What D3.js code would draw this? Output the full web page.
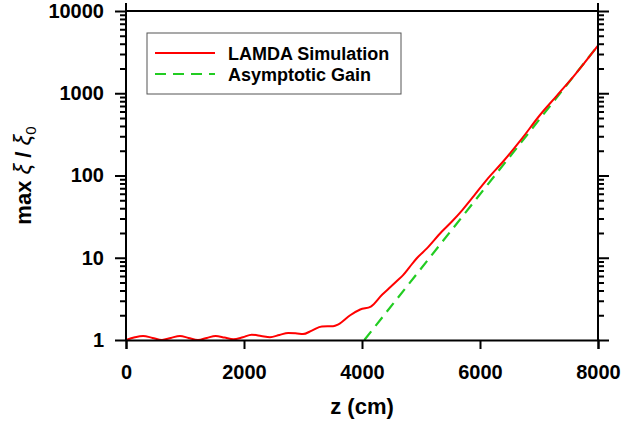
<!DOCTYPE html>
<html>
<head>
<meta charset="utf-8">
<script src="https://cdn.jsdelivr.net/npm/d3@7"></script>
<style>
  body { margin: 0; background: #fff; }
  text { font-family: "Liberation Sans", Arial, sans-serif; }
</style>
</head>
<body>
<script>
// LAMDA simulation: z (cm) vs max xi / xi0
var simZ = [0, 150, 290, 450, 610, 760, 915, 1060, 1220, 1370, 1520, 1670, 1820, 1980, 2130, 2290, 2440, 2600, 2750, 2900, 3000, 3150, 3320, 3510, 3600, 3800, 3970, 4150, 4340, 4450, 4600, 4700, 4800, 4925, 5100, 5350, 5520, 5700, 5900, 6110, 6400, 6700, 7017, 7300, 7600, 8000];
var simGain = [1.0, 1.08, 1.12, 1.06, 1.0, 1.06, 1.12, 1.06, 1.0, 1.06, 1.12, 1.07, 1.02, 1.08, 1.16, 1.12, 1.08, 1.15, 1.22, 1.2, 1.18, 1.3, 1.46, 1.47, 1.55, 2.0, 2.35, 2.55, 3.55, 4.2, 5.3, 6.2, 7.6, 9.8, 13, 20.7, 27.4, 38, 57, 88, 150, 275, 544, 930, 1650, 3800];

// asymptotic gain (straight line on log scale)
var asymZ = [4040, 8000];
var asymGain = [1, 3800];

var xTicks = [0, 2000, 4000, 6000, 8000];
var yTicks = [1, 10, 100, 1000, 10000];
var legendLabels = ["LAMDA Simulation", "Asymptotic Gain"];

var width = 622;
var height = 427;
var svg = d3.select("body").append("svg").attr("width", width + "px").attr("height", height + "px");

var plotLeft = 126, plotRight = 598, plotTop = 11, plotBottom = 340;

var x = d3.scaleLinear().domain([0, 8000]).range([plotLeft, plotRight]);
var y = d3.scaleLog().domain([1, 10000]).range([plotBottom, plotTop]);

var minorTicks = [];
for (var d = 1; d < 10000; d *= 10) {
    for (var k = 2; k <= 9; k++) minorTicks.push(d * k);
}

var line = d3.line()
    .x(function (d) { return x(d[0]); })
    .y(function (d) { return y(d[1]); });

var simData = simZ.map(function (z, i) { return [z, simGain[i]]; });
var asymData = asymZ.map(function (z, i) { return [z, asymGain[i]]; });

svg.append("path")
    .datum(asymData)
    .attr("d", line)
    .attr("fill", "none")
    .attr("stroke", "#22cc22")
    .attr("stroke-width", 2.2)
    .attr("stroke-dasharray", "11,7");

svg.append("path")
    .datum(simData)
    .attr("d", line.curve(d3.curveMonotoneX))
    .attr("fill", "none")
    .attr("stroke", "#ff0000")
    .attr("stroke-width", 2);

// frame lines
svg.append("line").attr("x1", plotLeft).attr("x2", plotRight).attr("y1", plotTop).attr("y2", plotTop)
    .attr("stroke", "#000").attr("stroke-width", 2);
svg.append("line").attr("x1", plotLeft).attr("x2", plotLeft).attr("y1", 3).attr("y2", plotBottom)
    .attr("stroke", "#000").attr("stroke-width", 2);
svg.append("line").attr("x1", plotRight).attr("x2", plotRight).attr("y1", 3).attr("y2", plotBottom)
    .attr("stroke", "#000").attr("stroke-width", 2);

// bottom axis
var xAxis = svg.append("g")
    .attr("transform", "translate(0," + plotBottom + ")")
    .call(d3.axisBottom(x).tickValues(xTicks).tickSize(9).tickPadding(16).tickFormat(d3.format("d")));
xAxis.select(".domain").attr("stroke-width", 2);
xAxis.selectAll(".tick line").attr("stroke-width", 2);
xAxis.selectAll("text").attr("font-size", "20px").attr("font-weight", "bold").attr("fill", "#000")
    .attr("font-family", "Liberation Sans, Arial, sans-serif");

// left axis
var yAxis = svg.append("g")
    .attr("transform", "translate(" + plotLeft + ",0)")
    .call(d3.axisLeft(y).tickValues(yTicks).tickSize(11).tickPadding(11).tickFormat(d3.format("d")));
yAxis.select(".domain").remove();
yAxis.selectAll(".tick line").attr("stroke-width", 2);
yAxis.selectAll("text").attr("font-size", "20px").attr("font-weight", "bold").attr("fill", "#000")
    .attr("font-family", "Liberation Sans, Arial, sans-serif");

var yMinor = svg.append("g")
    .attr("transform", "translate(" + plotLeft + ",0)")
    .call(d3.axisLeft(y).tickValues(minorTicks).tickSize(6).tickFormat(""));
yMinor.select(".domain").remove();
yMinor.selectAll(".tick line").attr("stroke-width", 2);

// right axis, ticks outward
var rAxis = svg.append("g")
    .attr("transform", "translate(" + plotRight + ",0)")
    .call(d3.axisRight(y).tickValues(yTicks).tickSize(11).tickFormat(""));
rAxis.select(".domain").remove();
rAxis.selectAll(".tick line").attr("stroke-width", 2);

var rMinor = svg.append("g")
    .attr("transform", "translate(" + plotRight + ",0)")
    .call(d3.axisRight(y).tickValues(minorTicks).tickSize(6).tickFormat(""));
rMinor.select(".domain").remove();
rMinor.selectAll(".tick line").attr("stroke-width", 2);

// axis titles
svg.append("text")
    .attr("x", (plotLeft + plotRight) / 2)
    .attr("y", 414)
    .attr("text-anchor", "middle")
    .attr("font-size", "22px")
    .attr("font-weight", "bold")
    .text("z (cm)");

var yTitle = svg.append("text")
    .attr("transform", "translate(31," + ((plotTop + plotBottom) / 2) + ") rotate(-90)")
    .attr("text-anchor", "middle")
    .attr("font-size", "22px")
    .attr("font-weight", "bold");
yTitle.append("tspan").text("max ");
yTitle.append("tspan").attr("font-style", "italic").attr("font-weight", "normal").attr("font-size", "24px").text("ξ");
yTitle.append("tspan").text(" / ");
yTitle.append("tspan").attr("font-style", "italic").attr("font-weight", "normal").attr("font-size", "24px").text("ξ");
yTitle.append("tspan").attr("font-size", "15px").attr("font-weight", "normal").attr("dy", 5).text("0");

// legend
var legend = svg.append("g");
legend.append("rect")
    .attr("x", 147).attr("y", 33).attr("width", 254).attr("height", 61)
    .attr("fill", "#fff").attr("stroke", "#555").attr("stroke-width", 1);

var legendColors = ["#ff0000", "#22cc22"];
var legendDash = [null, "11,7"];
legendLabels.forEach(function (label, i) {
    var ly = 53 + i * 21;
    legend.append("line")
        .attr("x1", 155).attr("x2", 215).attr("y1", ly).attr("y2", ly)
        .attr("stroke", legendColors[i]).attr("stroke-width", 2.2)
        .attr("stroke-dasharray", legendDash[i]);
    legend.append("text")
        .attr("x", 228).attr("y", ly + 6.5)
        .attr("font-size", "18px").attr("font-weight", "bold")
        .text(label);
});
</script>
</body>
</html>
